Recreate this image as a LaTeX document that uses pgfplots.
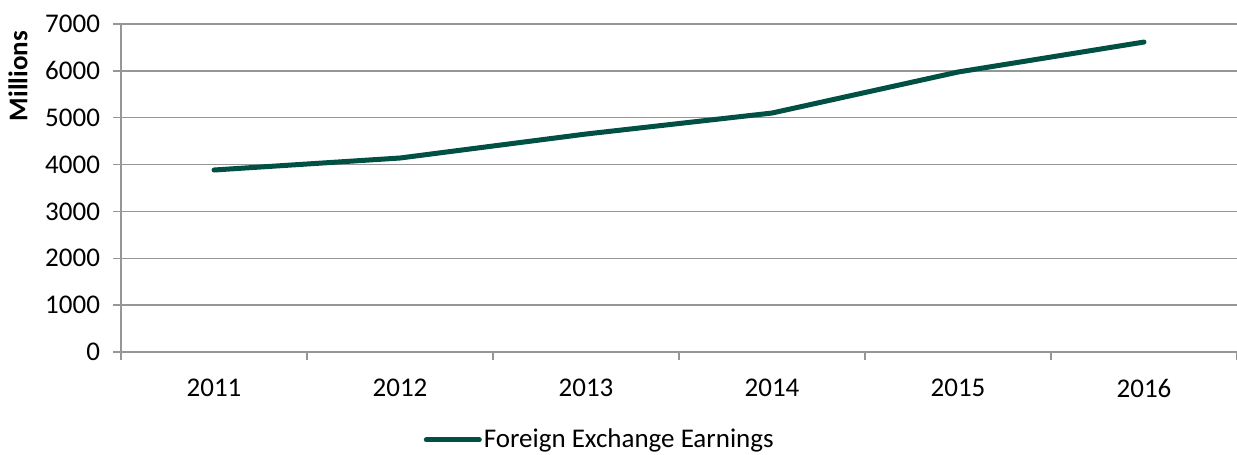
\documentclass[border=0pt]{standalone}
\usepackage{pgfplots}
\pgfplotsset{compat=1.18}
\usepackage{fontspec}
\setmainfont{Carlito}
\definecolor{linegreen}{RGB}{1,80,68}
\definecolor{gridgray}{RGB}{150,150,150}
\begin{document}
\begin{tikzpicture}
\path[use as bounding box] (0,0) rectangle (618.5pt,227.5pt);
\begin{axis}[
  at={(60.5pt,51.5pt)}, anchor=south west,
  scale only axis, width=558pt, height=164pt,
  xmin=-0.5, xmax=5.5, ymin=0, ymax=7000,
  xtick={-0.5,0.5,...,5.5},
  x tick label as interval,
  xticklabels={2011,2012,2013,2014,2015,2016},
  ytick={0,1000,...,7000},
  axis x line=bottom, axis y line=left,
  axis line style={-, draw=gridgray, line width=0.75pt},
  tick align=outside, major tick length=4pt,
  tick style={draw=gridgray, line width=0.75pt},
  ymajorgrids, grid style={draw=gridgray, line width=0.75pt},
  font=\fontsize{13.5}{16}\selectfont,
  /pgf/number format/assume math mode=true,
  /pgf/number format/1000 sep={},
  yticklabel style={xshift=-3pt},
  xticklabel style={yshift=-6pt},
  ylabel={Millions},
  ylabel style={font=\fontsize{13.5}{16}\selectfont\bfseries, at={(axis description cs:-0.0923,0.841)}, anchor=center, rotate=0},
  legend style={draw=none, fill=none, at={(axis description cs:0.429,-0.268)}, anchor=center, font=\fontsize{13.5}{16}\selectfont, inner sep=0pt, nodes={inner xsep=1pt}},
  legend image code/.code={\draw[#1, line cap=round] (0pt,0pt) -- (26.5pt,0pt);},
  legend cell align=left,
  clip=false,
]
\addplot[color=linegreen, line width=2.5pt, line cap=round, line join=round] coordinates {
  (0,3884) (1,4140) (2,4652) (3,5100) (4,5975) (5,6615)
};
\addlegendentry{Foreign Exchange Earnings}
\end{axis}
\end{tikzpicture}
\end{document}
